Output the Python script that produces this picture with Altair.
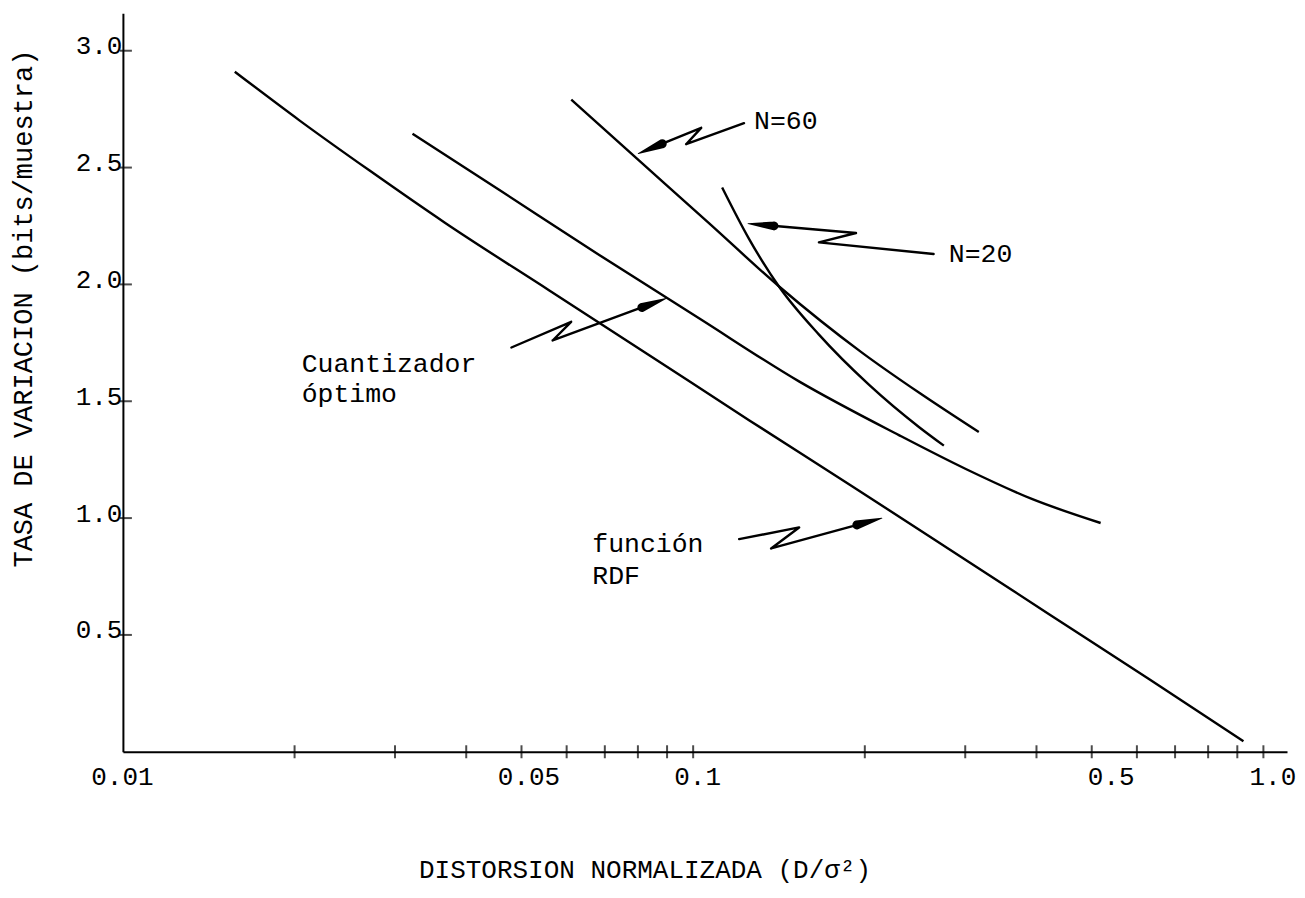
import math
import altair as alt
import pandas as pd

# ---------------- data ----------------
RDF_X = [0.01571, 0.02042, 0.02708, 0.03664, 0.05595, 0.08375, 0.1253, 0.1876,
         0.2808, 0.4202, 0.6289, 0.9226]
RDF_Y = [2.910, 2.701, 2.487, 2.265, 1.974, 1.697, 1.419, 1.145,
         0.868, 0.590, 0.312, 0.045]

CUANT_X = [0.0322, 0.04574, 0.06844, 0.1024, 0.1533, 0.2295, 0.3007, 0.3925, 0.5183]
CUANT_Y = [2.645, 2.404, 2.126, 1.855, 1.585, 1.355, 1.210, 1.082, 0.979]

N60_X = [0.06113, 0.08042, 0.1067, 0.1415, 0.1977, 0.2488, 0.3169]
N60_Y = [2.791, 2.530, 2.261, 1.991, 1.708, 1.537, 1.368]

N20_X = [0.1124, 0.1253, 0.1415, 0.1662, 0.2033, 0.2488, 0.2752]
N20_Y = [2.415, 2.195, 1.990, 1.785, 1.571, 1.390, 1.310]

SERIES = ["función RDF", "Cuantizador óptimo", "N=60", "N=20"]

TEXTS = ["N=60", "N=20", "Cuantizador", "óptimo", "función", "RDF"]
TEXT_X = [0.1279, 0.2808, 0.02058, 0.02058, 0.06655, 0.06655]
TEXT_Y = [2.667, 2.094, 1.624, 1.496, 0.855, 0.718]

# zig-zag pointer arrows (tail ... head)
ARROW_N60_X = [0.1228, 0.0972, 0.1033, 0.0801]
ARROW_N60_Y = [2.69, 2.60, 2.67, 2.56]
ARROW_N20_X = [0.264, 0.1662, 0.193, 0.1248]
ARROW_N20_Y = [2.13, 2.18, 2.22, 2.26]
ARROW_CUANT_X = [0.048, 0.0611, 0.0567, 0.0897]
ARROW_CUANT_Y = [1.73, 1.84, 1.76, 1.94]
ARROW_RDF_X = [0.1204, 0.1534, 0.137, 0.2143]
ARROW_RDF_Y = [0.91, 0.96, 0.87, 1.00]

X_TICKS = [0.02, 0.03, 0.04, 0.05, 0.06, 0.07, 0.08, 0.09, 0.1,
           0.2, 0.3, 0.4, 0.5, 0.6, 0.7, 0.8, 0.9, 1.0]
X_LABELS = [0.01, 0.05, 0.1, 0.5, 1.0]
Y_TICKS = [0.5, 1.0, 1.5, 2.0, 2.5, 3.0]

X_TITLE = "DISTORSION NORMALIZADA (D/σ²)"
Y_TITLE = "TASA DE VARIACION (bits/muestra)"

# ---------------- layout ----------------
W, H = 1165, 739
X_DOM = [0.01, 1.1]
Y_DOM = [0.0, 3.16]
FONT = "Liberation Mono"


def to_px(x, y):
    lx0, lx1 = math.log10(X_DOM[0]), math.log10(X_DOM[1])
    px = W * (math.log10(x) - lx0) / (lx1 - lx0)
    py = H * (1 - (y - Y_DOM[0]) / (Y_DOM[1] - Y_DOM[0]))
    return px, py


def from_px(px, py):
    lx0, lx1 = math.log10(X_DOM[0]), math.log10(X_DOM[1])
    x = 10 ** (lx0 + px / W * (lx1 - lx0))
    y = Y_DOM[0] + (1 - py / H) * (Y_DOM[1] - Y_DOM[0])
    return x, y


curve_rows = []
for name, xs, ys in zip(SERIES, [RDF_X, CUANT_X, N60_X, N20_X], [RDF_Y, CUANT_Y, N60_Y, N20_Y]):
    for x, y in zip(xs, ys):
        curve_rows.append({"series": name, "x": x, "y": y})
curves = pd.DataFrame(curve_rows)

# arrows as trails: thin shaft, wedge-shaped head
arrow_rows = []
WEDGE = 26.0
for name, xs, ys in [("n60", ARROW_N60_X, ARROW_N60_Y), ("n20", ARROW_N20_X, ARROW_N20_Y),
                     ("cuant", ARROW_CUANT_X, ARROW_CUANT_Y), ("rdf", ARROW_RDF_X, ARROW_RDF_Y)]:
    i = 0
    for x, y in zip(xs[:-1], ys[:-1]):
        arrow_rows.append({"arrow": name, "i": i, "x": x, "y": y, "w": 2.4})
        i += 1
    px0, py0 = to_px(xs[-2], ys[-2])
    hx, hy = to_px(xs[-1], ys[-1])
    d = math.hypot(px0 - hx, py0 - hy)
    f1 = min((WEDGE + 1.5) / d, 0.95)
    f2 = min(WEDGE / d, 0.9)
    for f, w in [(f1, 2.4), (f2, 9.0)]:
        bx, by = from_px(hx + (px0 - hx) * f, hy + (py0 - hy) * f)
        arrow_rows.append({"arrow": name, "i": i, "x": bx, "y": by, "w": w})
        i += 1
    arrow_rows.append({"arrow": name, "i": i, "x": xs[-1], "y": ys[-1], "w": 0.8})
arrows = pd.DataFrame(arrow_rows)

texts = pd.DataFrame({"x": TEXT_X, "y": TEXT_Y, "t": TEXTS})
xticks = pd.DataFrame({"x": X_TICKS, "y": [0.0] * len(X_TICKS)})
yticks = pd.DataFrame({"x": [X_DOM[0]] * len(Y_TICKS), "y": Y_TICKS})

xscale = alt.Scale(type="log", domain=X_DOM, nice=False)
yscale = alt.Scale(domain=Y_DOM, nice=False, zero=False)

xaxis = alt.Axis(
    values=X_LABELS,
    labelExpr="datum.value >= 1 ? '1.0' : format(datum.value, '')",
    ticks=False, grid=False,
    domainColor="black", domainWidth=2,
    labelFont=FONT, labelFontSize=26, labelColor="black",
    labelPadding=12, labelFlush=False, labelOverlap=False,
    labelOffset={"condition": [{"test": "datum.value >= 1", "value": 9},
                               {"test": "datum.value >= 0.5", "value": 19},
                               {"test": "datum.value >= 0.1", "value": 4},
                               {"test": "datum.value >= 0.05", "value": 7}],
                 "value": -1},
    title=X_TITLE, titleFont=FONT, titleFontSize=26, titleFontWeight="normal",
    titleColor="black", titleX=522, titleY=126, titleAlign="center",
    titleBaseline="alphabetic",
)
yaxis = alt.Axis(
    values=Y_TICKS,
    labelExpr="format(datum.value, '.1f')",
    ticks=False, grid=False,
    domainColor="black", domainWidth=2,
    labelFont=FONT, labelFontSize=26, labelColor="black",
    labelPadding=1, labelBaseline="alphabetic", labelOffset=3,
    labelFlush=False, labelOverlap=False,
    title=Y_TITLE, titleFont=FONT, titleFontSize=27, titleFontWeight="normal",
    titleColor="black", titleAngle=270, titleX=-91, titleY=295,
    titleAlign="center", titleBaseline="alphabetic",
)

X = alt.X("x:Q", scale=xscale, axis=xaxis)
Xn = alt.X("x:Q", scale=xscale)
Y = alt.Y("y:Q", scale=yscale, axis=yaxis)
Yn = alt.Y("y:Q", scale=yscale)

lines = alt.Chart(curves).mark_line(
    color="black", strokeWidth=2.4, interpolate="monotone"
).encode(x=X, y=Y, detail="series:N")

xtick_layer = alt.Chart(xticks).mark_tick(
    orient="vertical", size=13, thickness=2, color="black"
).encode(x=Xn, y=Yn)

ytick_layer = alt.Chart(yticks).mark_tick(
    orient="horizontal", size=12, thickness=2, color="black", xOffset=3
).encode(x=Xn, y=Yn)

arrow_layer = alt.Chart(arrows).mark_trail(color="black").encode(
    x=Xn, y=Yn,
    size=alt.Size("w:Q", scale=None, legend=None),
    order=alt.Order("i:Q"),
    detail="arrow:N",
)

text_layer = alt.Chart(texts).mark_text(
    align="left", baseline="alphabetic", font=FONT, fontSize=26.5, color="black"
).encode(x=Xn, y=Yn, text="t:N")

chart = alt.layer(lines, xtick_layer, ytick_layer, arrow_layer, text_layer).properties(
    width=W, height=H,
    autosize=alt.AutoSizeParams(type="none"),
    padding={"left": 115, "top": 5, "right": 10, "bottom": 140},
    background="white",
).configure_view(stroke=None)

chart.save("out.html", embed_options={"renderer": "svg", "actions": False})
